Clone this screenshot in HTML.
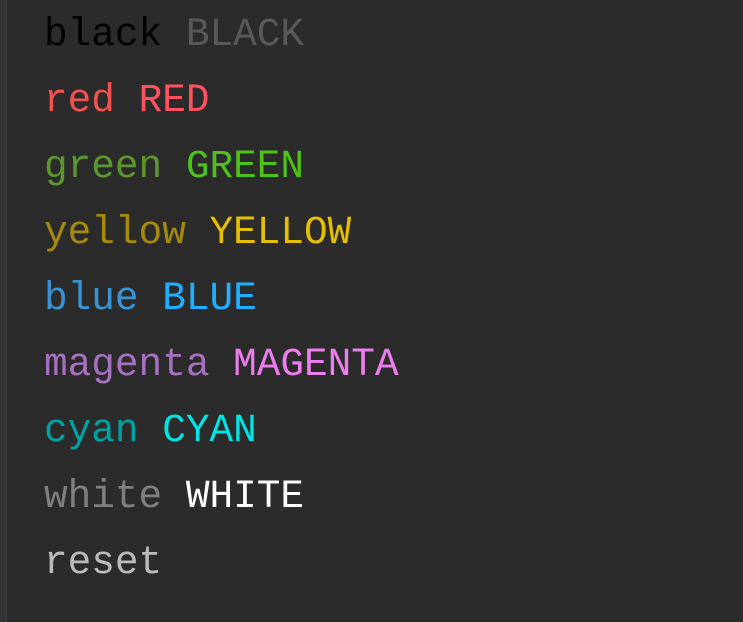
<!DOCTYPE html>
<html><head><style>
html,body{margin:0;padding:0;}
body{width:743px;height:622px;background:#2b2b2b;position:relative;overflow:hidden;}
.gutter{position:absolute;left:0;top:0;width:6px;height:622px;background:#313335;border-right:1px solid #3a3c3e;}
pre{position:absolute;left:44px;top:2px;margin:0;font-family:"Liberation Mono",monospace;font-size:39.4px;line-height:66px;color:#bbbbbb;}
</style></head><body>
<div class="gutter"></div>
<pre><span style="color:#000">black</span> <span style="color:#595959">BLACK</span>
<span style="color:#f0524f">red</span> <span style="color:#ff5261">RED</span>
<span style="color:#5c962c">green</span> <span style="color:#4ec21b">GREEN</span>
<span style="color:#a68a0d">yellow</span> <span style="color:#e5bf00">YELLOW</span>
<span style="color:#3993d4">blue</span> <span style="color:#1fb0ff">BLUE</span>
<span style="color:#a771bf">magenta</span> <span style="color:#ed7eed">MAGENTA</span>
<span style="color:#00a3a3">cyan</span> <span style="color:#00e5e5">CYAN</span>
<span style="color:#808080">white</span> <span style="color:#ffffff">WHITE</span>
<span style="color:#bbbbbb">reset</span></pre>
</body></html>
